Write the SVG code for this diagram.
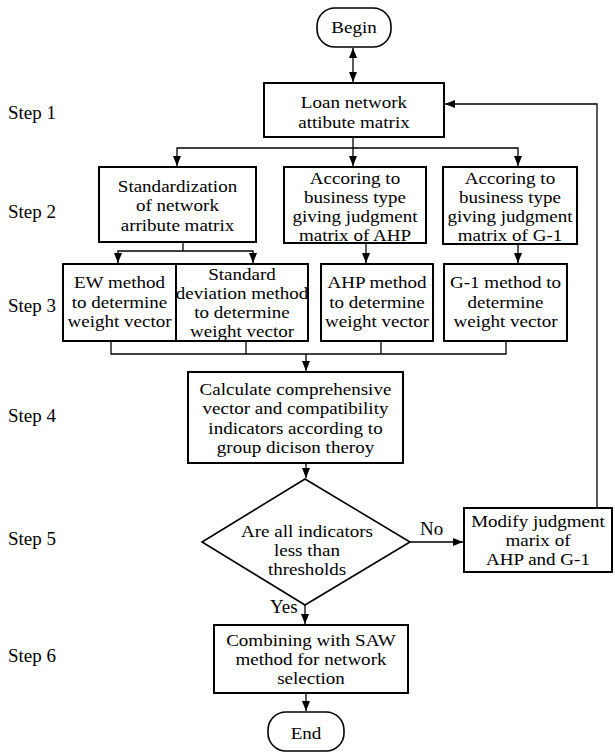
<svg xmlns="http://www.w3.org/2000/svg" width="615" height="756" viewBox="0 0 615 756">
<style>
.box{fill:#fff;stroke:#000;stroke-width:2}
.term{fill:#fff;stroke:#000;stroke-width:1.6}
.ln{fill:none;stroke:#000;stroke-width:1.3}
text{font-family:"Liberation Serif","Times New Roman",serif;font-size:19px;fill:#000}
.c{text-anchor:middle;font-size:17px;transform-box:fill-box;transform-origin:center;transform:scaleX(1.12)}
</style>
<defs>
<marker id="ah" viewBox="0 0 10 8" refX="10" refY="4" markerWidth="10" markerHeight="8" markerUnits="userSpaceOnUse" orient="auto-start-reverse">
<path d="M0,0 L10,4 L0,8 Z" fill="#000"/>
</marker>
</defs>
<g id="steps">
<text x="8" y="119">Step 1</text>
<text x="8" y="218">Step 2</text>
<text x="8" y="312">Step 3</text>
<text x="8" y="422">Step 4</text>
<text x="8" y="545">Step 5</text>
<text x="8" y="662">Step 6</text>
</g>
<g id="connectors">
<line class="ln" x1="353" y1="48" x2="353" y2="82" marker-start="url(#ah)" marker-end="url(#ah)"/>
<line class="ln" x1="353" y1="138" x2="353" y2="166" marker-end="url(#ah)"/>
<polyline class="ln" points="177,166 177,148 518,148 518,166" marker-start="url(#ah)" marker-end="url(#ah)"/>
<line class="ln" x1="183" y1="243" x2="183" y2="251"/>
<polyline class="ln" points="118,263 118,251 253,251 253,263" marker-start="url(#ah)" marker-end="url(#ah)"/>
<line class="ln" x1="366" y1="244" x2="366" y2="263" marker-end="url(#ah)"/>
<line class="ln" x1="518" y1="245" x2="518" y2="263" marker-end="url(#ah)"/>
<polyline class="ln" points="111,342 111,354 506,354 506,342"/>
<line class="ln" x1="246" y1="342" x2="246" y2="354"/>
<line class="ln" x1="381" y1="342" x2="381" y2="354"/>
<line class="ln" x1="306" y1="354" x2="306" y2="371" marker-end="url(#ah)"/>
<line class="ln" x1="306" y1="464" x2="306" y2="478" marker-end="url(#ah)"/>
<line class="ln" x1="410" y1="542" x2="463" y2="542" marker-end="url(#ah)"/>
<line class="ln" x1="305" y1="605" x2="305" y2="624" marker-end="url(#ah)"/>
<line class="ln" x1="306" y1="694" x2="306" y2="711" marker-end="url(#ah)"/>
<polyline class="ln" points="597,507 597,104 445,104" marker-end="url(#ah)"/>
<text x="420" y="535">No</text>
<text x="270" y="613">Yes</text>
</g>
<g id="begin">
<rect class="term" x="317" y="8" width="74" height="39" rx="18"/>
<text class="c" x="354" y="33">Begin</text>
</g>
<g id="loan">
<rect class="box" x="264" y="83" width="180" height="54"/>
<text class="c" x="354" y="108">Loan network</text>
<text class="c" x="354" y="128">attibute matrix</text>
</g>
<g id="standardization">
<rect class="box" x="99" y="167" width="157" height="75"/>
<text class="c" x="177.5" y="192">Standardization</text>
<text class="c" x="177.5" y="211">of network</text>
<text class="c" x="177.5" y="231">arribute matrix</text>
</g>
<g id="ahp-judgment">
<rect class="box" x="284" y="167" width="142" height="76"/>
<text class="c" x="355" y="184">Accoring to</text>
<text class="c" x="355" y="203">business type</text>
<text class="c" x="355" y="222">giving judgment</text>
<text class="c" x="355" y="241">matrix of AHP</text>
</g>
<g id="g1-judgment">
<rect class="box" x="443" y="167" width="134" height="77"/>
<text class="c" x="510" y="184">Accoring to</text>
<text class="c" x="510" y="203">business type</text>
<text class="c" x="510" y="222">giving judgment</text>
<text class="c" x="510" y="241">matrix of G-1</text>
</g>
<g id="ew">
<rect class="box" x="63" y="264" width="113" height="77"/>
<text class="c" x="119.5" y="288">EW method</text>
<text class="c" x="119.5" y="308">to determine</text>
<text class="c" x="119.5" y="327">weight vector</text>
</g>
<g id="sd">
<rect class="box" x="176" y="264" width="132" height="77"/>
<text class="c" x="242" y="280">Standard</text>
<text class="c" x="242" y="299">deviation method</text>
<text class="c" x="242" y="318">to determine</text>
<text class="c" x="242" y="337">weight vector</text>
</g>
<g id="ahp-method">
<rect class="box" x="321" y="264" width="112" height="77"/>
<text class="c" x="377" y="288">AHP method</text>
<text class="c" x="377" y="308">to determine</text>
<text class="c" x="377" y="327">weight vector</text>
</g>
<g id="g1-method">
<rect class="box" x="444" y="264" width="123" height="77"/>
<text class="c" x="505.5" y="288">G-1 method to</text>
<text class="c" x="505.5" y="308">determine</text>
<text class="c" x="505.5" y="327">weight vector</text>
</g>
<g id="calculate">
<rect class="box" x="188" y="372" width="215" height="91"/>
<text class="c" x="295.5" y="395">Calculate comprehensive</text>
<text class="c" x="295.5" y="414">vector and compatibility</text>
<text class="c" x="295.5" y="434">indicators according to</text>
<text class="c" x="295.5" y="453">group dicison theroy</text>
</g>
<g id="decision">
<polygon class="term" points="305,479 410,542 305,605 202,542"/>
<text class="c" x="307" y="537">Are all indicators</text>
<text class="c" x="307" y="556">less than</text>
<text class="c" x="307" y="575">thresholds</text>
</g>
<g id="modify">
<rect class="box" x="464" y="508" width="148" height="64"/>
<text class="c" x="538" y="527">Modify judgment</text>
<text class="c" x="538" y="546">marix of</text>
<text class="c" x="538" y="565">AHP and G-1</text>
</g>
<g id="combining">
<rect class="box" x="214" y="625" width="194" height="68"/>
<text class="c" x="311" y="646">Combining with SAW</text>
<text class="c" x="311" y="665">method for network</text>
<text class="c" x="311" y="684">selection</text>
</g>
<g id="end">
<rect class="term" x="268" y="712" width="76" height="39" rx="18"/>
<text class="c" x="306" y="739">End</text>
</g>
</svg>
